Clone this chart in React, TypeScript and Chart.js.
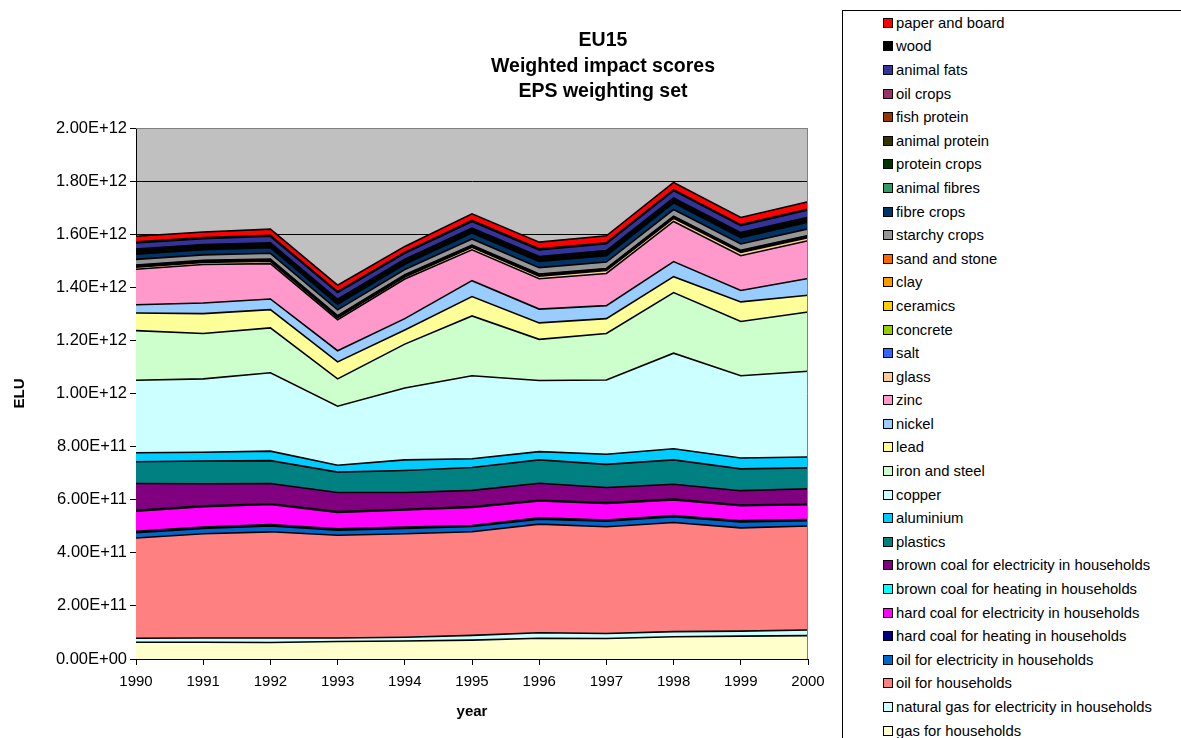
import React, { useEffect, useRef } from 'react';
import { Chart, registerables } from 'chart.js';

Chart.register(...registerables);

// ---- data (values in 1e9 ELU) ----
const years = ['1990', '1991', '1992', '1993', '1994', '1995', '1996', '1997', '1998', '1999', '2000'];

const gasHouseholds = [63, 63, 62, 66, 68, 71, 78, 77, 84, 86, 88];
const naturalGasElec = [15, 16, 17, 13, 14, 18, 21, 19, 19, 19, 21];
const oilHouseholds = [378, 393, 400, 387, 390, 390, 409, 402, 411, 389, 392];
const oilElec = [20, 20, 22, 19, 20, 20, 19, 21, 22, 22, 20];
const hardCoalHeat = [5, 5, 5, 5, 5, 4, 5, 4, 4, 5, 4];
const hardCoalElec = [76, 77, 76, 62, 64, 68, 63, 63, 59, 56, 56];
const brownCoalHeat = [3, 3, 3, 3, 3, 3, 3, 3, 3, 3, 3];
const brownCoalElec = [101, 83, 76, 72, 63, 61, 64, 57, 56, 54, 57];
const plastics = [82, 86, 86, 77, 83, 86, 88, 87, 92, 82, 79];
const aluminium = [34, 33, 36, 26, 40, 33, 31, 38, 42, 41, 41];
const copper = [273, 276, 295, 222, 271, 313, 268, 280, 360, 310, 323];
const ironSteel = [187, 171, 169, 103, 165, 225, 155, 175, 228, 204, 223];
const lead = [66, 75, 69, 64, 53, 73, 62, 56, 60, 74, 63];
const nickel = [31, 40, 40, 42, 43, 60, 52, 49, 57, 43, 63];
const zinc = [134, 145, 133, 117, 149, 116, 114, 121, 151, 131, 142];
const glass = [8, 8, 9, 7, 8, 10, 10, 11, 12, 12, 12];
const salt = [1, 1, 1, 1, 1, 1, 1, 1, 1, 1, 1];
const concrete = [1, 1, 1, 1, 1, 1, 1, 1, 1, 1, 1];
const ceramics = [2, 2, 2, 2, 2, 2, 2, 2, 2, 2, 2];
const clay = [2, 2, 2, 2, 2, 2, 2, 2, 2, 2, 2];
const sandStone = [2, 2, 2, 2, 2, 2, 2, 2, 2, 2, 2];
const starchyCrops = [21, 20, 22, 22, 20, 23, 24, 24, 25, 24, 25];
const fibreCrops = [20, 20, 21, 21, 20, 22, 23, 24, 25, 24, 25];
const animalFibres = [3, 3, 3, 3, 3, 3, 3, 3, 3, 3, 3];
const proteinCrops = [4, 4, 4, 4, 4, 4, 4, 4, 4, 4, 4];
const animalProtein = [5, 5, 5, 5, 5, 5, 5, 5, 5, 5, 5];
const fishProtein = [3, 3, 3, 3, 3, 3, 3, 3, 3, 3, 3];
const oilCrops = [4, 4, 4, 4, 4, 4, 4, 4, 4, 4, 4];
const animalFats = [23, 22, 24, 25, 22, 25, 25, 26, 27, 26, 27];
const wood = [4, 4, 4, 4, 4, 4, 4, 4, 4, 4, 4];
const paperBoard = [21, 21, 23, 24, 22, 25, 25, 26, 27, 27, 27];

const yTicksMax = 2e12;
const yTickStep = 2e11;

// stack order: bottom first
const series: { name: string; color: string; data: number[] }[] = [
  { name: 'gas for households', color: '#FFFFCC', data: gasHouseholds },
  { name: 'natural gas for electricity in households', color: '#CCFFFF', data: naturalGasElec },
  { name: 'oil for households', color: '#FF8080', data: oilHouseholds },
  { name: 'oil for electricity in households', color: '#0066CC', data: oilElec },
  { name: 'hard coal for heating in households', color: '#000080', data: hardCoalHeat },
  { name: 'hard coal for electricity in households', color: '#FF00FF', data: hardCoalElec },
  { name: 'brown coal for heating in households', color: '#00FFFF', data: brownCoalHeat },
  { name: 'brown coal for electricity in households', color: '#800080', data: brownCoalElec },
  { name: 'plastics', color: '#008080', data: plastics },
  { name: 'aluminium', color: '#00CCFF', data: aluminium },
  { name: 'copper', color: '#CCFFFF', data: copper },
  { name: 'iron and steel', color: '#CCFFCC', data: ironSteel },
  { name: 'lead', color: '#FFFF99', data: lead },
  { name: 'nickel', color: '#99CCFF', data: nickel },
  { name: 'zinc', color: '#FF99CC', data: zinc },
  { name: 'glass', color: '#FFCC99', data: glass },
  { name: 'salt', color: '#3366FF', data: salt },
  { name: 'concrete', color: '#99CC00', data: concrete },
  { name: 'ceramics', color: '#FFCC00', data: ceramics },
  { name: 'clay', color: '#FF9900', data: clay },
  { name: 'sand and stone', color: '#FF6600', data: sandStone },
  { name: 'starchy crops', color: '#969696', data: starchyCrops },
  { name: 'fibre crops', color: '#003366', data: fibreCrops },
  { name: 'animal fibres', color: '#339966', data: animalFibres },
  { name: 'protein crops', color: '#003300', data: proteinCrops },
  { name: 'animal protein', color: '#333300', data: animalProtein },
  { name: 'fish protein', color: '#993300', data: fishProtein },
  { name: 'oil crops', color: '#993366', data: oilCrops },
  { name: 'animal fats', color: '#333399', data: animalFats },
  { name: 'wood', color: '#000000', data: wood },
  { name: 'paper and board', color: '#FF0000', data: paperBoard },
];

const FONT = '"Liberation Sans", Arial, Helvetica, sans-serif';

const fmtSci = (v: number) => {
  if (v === 0) return '0.00E+00';
  const e = Math.floor(Math.log10(Math.abs(v)) + 1e-9);
  const m = v / Math.pow(10, e);
  return m.toFixed(2) + 'E+' + String(e).padStart(2, '0');
};

const plotArea = {
  id: 'plotArea',
  beforeDraw(chart: any) {
    const { ctx, chartArea: a } = chart;
    ctx.save();
    ctx.fillStyle = '#C0C0C0';
    ctx.fillRect(a.left, a.top, a.right - a.left, a.bottom - a.top);
    ctx.restore();
  },
  afterDatasetsDraw(chart: any) {
    const { ctx, chartArea: a } = chart;
    ctx.save();
    ctx.strokeStyle = '#808080';
    ctx.lineWidth = 1;
    ctx.beginPath();
    ctx.moveTo(a.left, a.top + 0.5);
    ctx.lineTo(a.right - 0.5, a.top + 0.5);
    ctx.lineTo(a.right - 0.5, a.bottom);
    ctx.stroke();
    ctx.restore();
  },
};

function AreaChart() {
  const ref = useRef<HTMLCanvasElement>(null);
  useEffect(() => {
    if (!ref.current) return;
    const chart = new Chart(ref.current, {
      type: 'line',
      data: {
        labels: years,
        datasets: series.map((s, i) => ({
          label: s.name,
          data: s.data.map((v) => v * 1e9),
          backgroundColor: s.color,
          borderColor: '#000000',
          borderWidth: 1.6,
          pointRadius: 0,
          tension: 0,
          fill: i === 0 ? 'origin' : '-1',
        })),
      },
      options: {
        responsive: false,
        animation: false,
        devicePixelRatio: 1,
        layout: { padding: { top: 128, right: 32, left: 0, bottom: 0 } },
        plugins: {
          legend: { display: false },
          tooltip: { enabled: false },
          title: { display: false },
        },
        scales: {
          x: {
            type: 'category',
            offset: false,
            afterFit: (s: any) => {
              s.height = 79;
            },
            grid: {
              display: true,
              drawOnChartArea: false,
              drawTicks: true,
              tickLength: 6,
              color: '#000000',
              offset: false,
            },
            border: { display: true, color: '#000000', width: 1 },
            ticks: {
              color: '#000000',
              font: { family: FONT, size: 15 },
              padding: 8,
              maxRotation: 0,
              autoSkip: false,
            },
            title: {
              display: true,
              text: 'year',
              color: '#000000',
              font: { family: FONT, size: 15, weight: 'bold' },
              padding: { top: 0, bottom: 17 },
            },
          },
          y: {
            stacked: true,
            min: 0,
            max: yTicksMax,
            afterFit: (s: any) => {
              s.width = 136;
            },
            grid: {
              color: (c: any) => (c.tick && c.tick.value === yTicksMax ? '#808080' : '#000000'),
              lineWidth: 1,
              drawTicks: true,
              tickLength: 6,
              tickColor: '#000000',
            },
            border: { display: true, color: '#000000', width: 1 },
            ticks: {
              stepSize: yTickStep,
              color: '#000000',
              font: { family: FONT, size: 16.5 },
              padding: 3,
              callback: (v: any) => fmtSci(Number(v)),
            },
            title: {
              display: true,
              text: 'ELU',
              color: '#000000',
              font: { family: FONT, size: 15, weight: 'bold' },
              padding: { top: 11, bottom: 0 },
            },
          },
        },
      },
      plugins: [plotArea],
    });
    return () => chart.destroy();
  }, []);
  return (
    <canvas
      ref={ref}
      width={840}
      height={738}
      style={{ position: 'absolute', left: 0, top: 0, width: 840, height: 738 }}
    />
  );
}

export default function App() {
  const legendItems = [...series].reverse();
  return (
    <div
      style={{
        position: 'fixed',
        left: 0,
        top: 0,
        width: 1181,
        height: 738,
        background: '#ffffff',
        overflow: 'hidden',
        fontFamily: FONT,
      }}
    >
      <AreaChart />
      <div
        style={{
          position: 'absolute',
          left: 403,
          top: 27,
          width: 400,
          textAlign: 'center',
          fontWeight: 'bold',
          fontSize: 19.5,
          lineHeight: '25.5px',
          color: '#000',
        }}
      >
        <div>EU15</div>
        <div>Weighted impact scores</div>
        <div>EPS weighting set</div>
      </div>
      <div
        style={{
          position: 'absolute',
          left: 842,
          top: 10,
          width: 400,
          height: 800,
          border: '1px solid #000',
          background: '#fff',
          boxSizing: 'border-box',
        }}
      >
        {legendItems.map((s) => (
          <div
            key={s.name}
            style={{
              display: 'flex',
              alignItems: 'center',
              height: 23.6,
              fontSize: 14.8,
              color: '#000',
              whiteSpace: 'nowrap',
            }}
          >
            <span
              style={{
                display: 'inline-block',
                width: 10,
                height: 10,
                boxSizing: 'border-box',
                border: '1px solid #000',
                background: s.color,
                marginLeft: 40,
                marginRight: 3,
                flex: '0 0 auto',
              }}
            />
            <span>{s.name}</span>
          </div>
        ))}
      </div>
    </div>
  );
}
